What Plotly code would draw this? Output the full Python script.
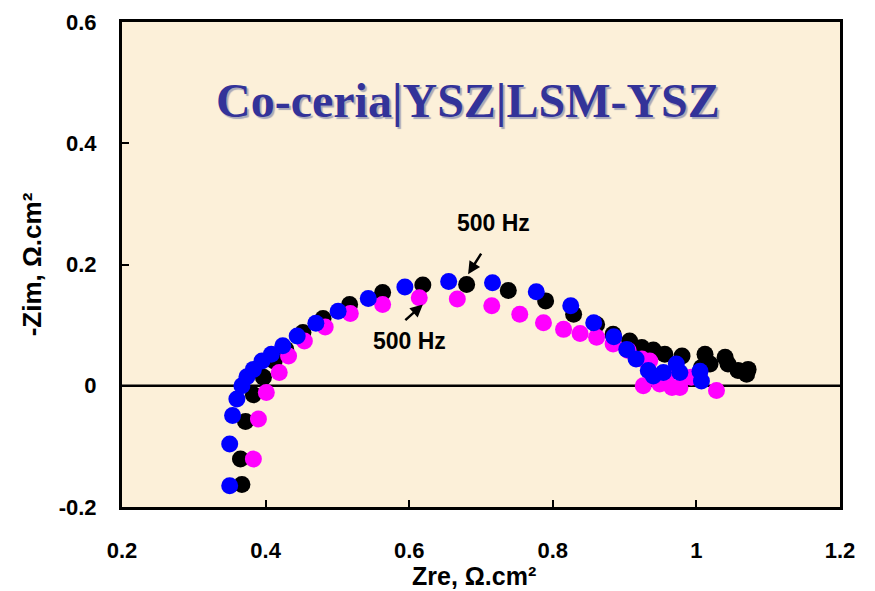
import plotly.graph_objects as go

# Black series
black_x = [0.367, 0.365, 0.372, 0.383, 0.397, 0.412, 0.428, 0.452, 0.480, 0.517, 0.563, 0.619,
           0.680, 0.738, 0.790, 0.829, 0.861, 0.884, 0.907, 0.924, 0.940, 0.956, 0.980,
           1.012, 1.007, 1.019, 1.040, 1.044, 1.058, 1.072, 1.070]
black_y = [-0.163, -0.121, -0.059, -0.015, 0.014, 0.041, 0.060, 0.088, 0.111, 0.134, 0.154, 0.166,
           0.167, 0.157, 0.140, 0.118, 0.101, 0.085, 0.074, 0.063, 0.059, 0.052, 0.049,
           0.052, 0.030, 0.036, 0.047, 0.036, 0.025, 0.027, 0.019]

# Magenta series
mag_x = [0.383, 0.390, 0.401, 0.419, 0.432, 0.454, 0.483, 0.518, 0.563, 0.614,
         0.667, 0.715, 0.754, 0.787, 0.815, 0.838, 0.861, 0.884, 0.905, 0.924,
         0.935, 0.959, 0.926, 0.949, 0.966, 0.977, 0.993, 1.028]
mag_y = [-0.121, -0.055, -0.011, 0.022, 0.049, 0.074, 0.097, 0.119, 0.134, 0.145,
         0.143, 0.132, 0.118, 0.104, 0.093, 0.086, 0.080, 0.069, 0.058, 0.044,
         0.041, 0.016, 0.000, 0.003, -0.003, -0.003, 0.014, -0.008]

# Blue series
blue_x = [0.350, 0.350, 0.354, 0.360, 0.367, 0.374, 0.383, 0.395, 0.408, 0.424, 0.444, 0.470,
          0.501, 0.543, 0.594, 0.655, 0.716, 0.777, 0.825, 0.857, 0.885, 0.903, 0.916,
          0.933, 0.940, 0.954, 0.972, 0.977, 1.007, 1.005]
blue_y = [-0.165, -0.096, -0.049, -0.022, 0.000, 0.015, 0.027, 0.041, 0.052, 0.066, 0.082, 0.103,
          0.123, 0.144, 0.163, 0.172, 0.170, 0.155, 0.132, 0.104, 0.081, 0.060, 0.044,
          0.025, 0.016, 0.022, 0.036, 0.022, 0.008, 0.024]

x_ticks = [0.2, 0.4, 0.6, 0.8, 1.0, 1.2]
x_tick_text = ["0.2", "0.4", "0.6", "0.8", "1", "1.2"]
y_ticks = [-0.2, 0, 0.2, 0.4, 0.6]
y_tick_text = ["-0.2", "0", "0.2", "0.4", "0.6"]

title_text = "Co-ceria|YSZ|LSM-YSZ"
x_title = "Zre, Ω.cm²"
y_title = "-Zim, Ω.cm²"

fig = go.Figure()
fig.add_trace(go.Scatter(x=[0.2, 1.2], y=[0, 0], mode="lines",
                         line=dict(color="black", width=2.5), showlegend=False, hoverinfo="skip"))
for xs, ys, col in [(black_x, black_y, "#000000"), (mag_x, mag_y, "#ff00ff"), (blue_x, blue_y, "#0000ff")]:
    fig.add_trace(go.Scatter(x=xs, y=ys, mode="markers",
                             marker=dict(color=col, size=17, line=dict(width=0)),
                             showlegend=False))

tick_font = dict(family="Arial, Liberation Sans", size=22, color="black", weight="bold")
title_font = dict(family="Arial, Liberation Sans", size=26, color="black", weight="bold")
fig.update_layout(
    width=875, height=591,
    margin=dict(l=122, r=35, t=22, b=84),
    paper_bgcolor="white",
    plot_bgcolor="#fcf0d9",
    xaxis=dict(range=[0.2, 1.2], tickvals=x_ticks, ticktext=x_tick_text,
               ticks="inside", ticklen=7, tickwidth=2, tickcolor="black",
               showline=True, linecolor="black", linewidth=3, mirror=True,
               showgrid=False, zeroline=False, tickfont=tick_font,
               ticklabelstandoff=22, automargin=False),
    yaxis=dict(range=[-0.2, 0.6], tickvals=y_ticks, ticktext=y_tick_text,
               ticks="inside", ticklen=7, tickwidth=2, tickcolor="black",
               showline=True, linecolor="black", linewidth=3, mirror=True,
               showgrid=False, zeroline=False, tickfont=tick_font,
               ticklabelstandoff=18, automargin=False,
               title=dict(text=y_title, font=title_font, standoff=10)),
)

# x-axis title as a positioned annotation
fig.add_annotation(xref="paper", yref="paper", x=0.49, y=-0.1732,
                   xanchor="center", yanchor="bottom", borderpad=0,
                   text=x_title, showarrow=False,
                   font=dict(family="Arial, Liberation Sans", size=25, color="black", weight="bold"))

# Title with drop shadow
fig.add_annotation(xref="paper", yref="paper", x=0.4815, y=0.839,
                   xanchor="center", yanchor="middle",
                   text=title_text, showarrow=False,
                   font=dict(family="Liberation Serif, Times New Roman", size=48,
                             color="#333399", weight="bold",
                             shadow="2px 2px 1px #a8a8b8"))

# 500 Hz labels and arrows
fig.add_annotation(x=0.682, y=0.184, ax=14, ay=-22, text="", showarrow=True,
                   arrowhead=2, arrowsize=1, arrowwidth=2.5, arrowcolor="black")
fig.add_annotation(x=0.619, y=0.134, ax=-19, ay=17, text="", showarrow=True,
                   arrowhead=2, arrowsize=1, arrowwidth=2.5, arrowcolor="black")
hz_font = dict(family="Arial, Liberation Sans", size=23, color="black", weight="bold")
fig.add_annotation(x=0.718, y=0.268, text="500 Hz", showarrow=False, font=hz_font)
fig.add_annotation(x=0.601, y=0.074, text="500 Hz", showarrow=False, font=hz_font)

fig.write_html("out.html")
